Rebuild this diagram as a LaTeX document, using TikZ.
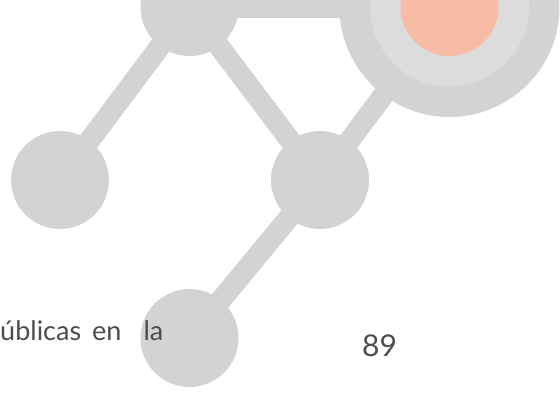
\documentclass[tikz,border=0pt]{standalone}
\usepackage{fontspec}
\setmainfont{Lato}
\usepackage{tikz}
\usetikzlibrary{backgrounds}
\definecolor{hubgray}{RGB}{212,211,209}
\definecolor{ringlight}{RGB}{220,220,220}
\definecolor{coresalmon}{RGB}{247,188,166}
\definecolor{pagetext}{RGB}{77,77,77}

\begin{document}
\begin{tikzpicture}[x=1pt, y=-1pt,
    hub/.style={circle, fill=hubgray, inner sep=0pt, minimum size=98pt},
    link/.style={hubgray, line width=21pt},
    pagefont/.style={anchor=base west, text=pagetext, inner sep=0pt}]
    % Frame
    \useasboundingbox (0,0) rectangle (560,394);

    % Small hubs
    \node[hub] (top) at (189.5,7) {};
    \node[hub] (left) at (60,180) {};
    \node[hub] (mid) at (320,180) {};
    \node[hub] (bottom) at (189.5,338) {};

    % Target ring
    \node[hub, minimum size=220pt] (ring) at (449.5,7) {};
    \node[hub, fill=ringlight, minimum size=159pt] (ringin) at (ring) {};
    \node[hub, fill=coresalmon] (core) at (ring) {};

    % Links
    \begin{pgfonlayer}{background}
    \foreach \a/\b in {top/ring, top/left, top/mid, ring/mid, mid/bottom}
        \draw[link] (\a.center) -- (\b.center);
    \end{pgfonlayer}

    % Page text
    \node[pagefont, font=\fontsize{27}{32}\selectfont] (line) at (0,340)
        {úblicas\hspace{11pt}en\hspace{22pt}la};
    \node[pagefont, font=\fontsize{30}{34}\selectfont] (page) at (362,356) {89};
\end{tikzpicture}
\end{document}
